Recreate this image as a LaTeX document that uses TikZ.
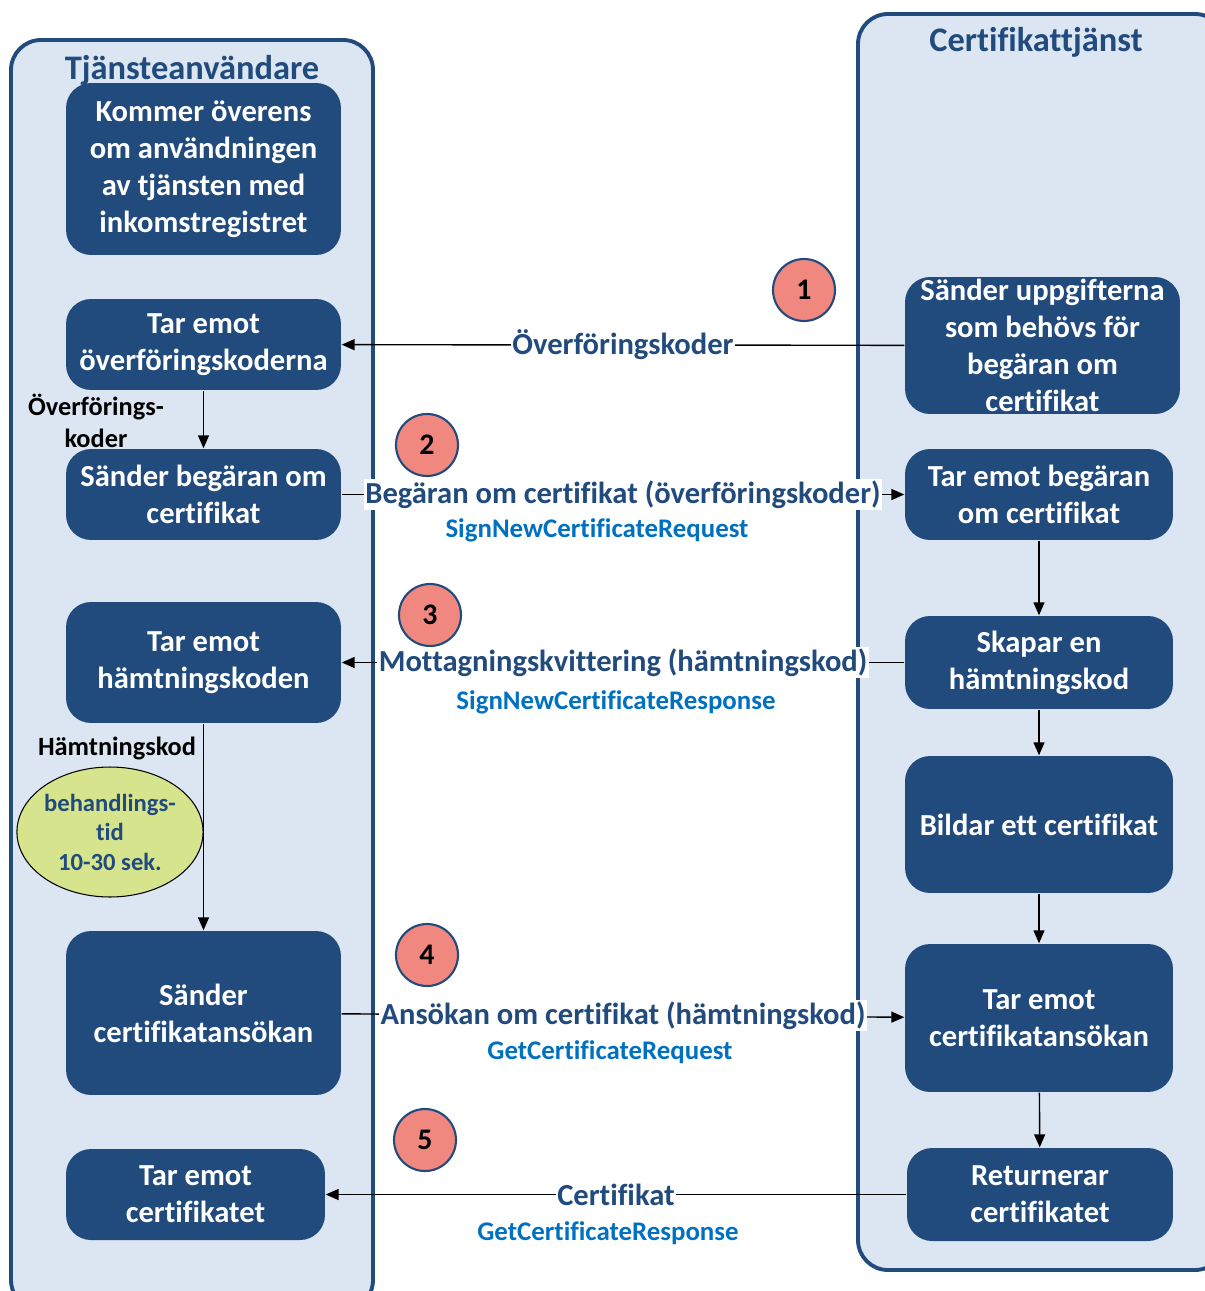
\documentclass[tikz,border=0pt]{standalone}
\usepackage{fontspec}
\setmainfont{Carlito}[Ligatures=NoCommon]
\usepackage{tikz}
\usetikzlibrary{positioning, arrows.meta, shapes.geometric}

\definecolor{boxblue}{RGB}{33,74,125}
\definecolor{lanefill}{RGB}{220,230,242}
\definecolor{linkblue}{RGB}{0,112,192}
\definecolor{nrfill}{RGB}{241,136,128}
\definecolor{ellfill}{RGB}{214,228,142}

\tikzset{
  lane/.style={draw=boxblue, line width=2.2pt, fill=lanefill, rounded corners=0.6cm},
  lanetitle/.style={text=boxblue, font=\fontsize{19.6}{24}\selectfont\bfseries},
  stepbox/.style={rectangle, rounded corners=0.5cm, fill=boxblue, text=white, align=center,
    inner sep=1pt, minimum width=5.5cm, minimum height=1.82cm,
    font=\fontsize{17.4}{21}\selectfont\bfseries},
  lbl/.style={fill=white, text=boxblue, inner sep=1pt, font=\fontsize{17.4}{21}\selectfont\bfseries},
  sublbl/.style={text=linkblue, font=\fontsize{15.3}{18}\selectfont\bfseries},
  nr/.style={circle, draw=boxblue, line width=1.2pt, fill=nrfill, minimum size=1.24cm,
    inner sep=0pt, font=\fontsize{17}{20}\selectfont\bfseries},
  note/.style={align=center, font=\fontsize{15}{18}\selectfont\bfseries},
}

\begin{document}
\begin{tikzpicture}[x=0.02cm, y=-0.02cm, >={Triangle[length=0.26cm, width=0.22cm]}, line width=0.8pt]
			\useasboundingbox (0,0) rectangle (1204,1291);
			\draw[lane] (11,40) rectangle (373,1310);
			\draw[lane] (858,14) rectangle (1225,1270);
			\node[lanetitle] (tu) at (192,70) {Tjänsteanvändare};
			\node[lanetitle] (tc) at (1036,42) {Certifikattjänst};
			
			\node[stepbox, minimum height=3.44cm] (u0) at (203.5,169) {Kommer överens\\om användningen\\av tjänsten med\\inkomstregistret};
			\node[stepbox] (u1) at (203.5,344.5) {Tar emot\\överföringskoderna};
			\node[stepbox] (u2) at (203.5,494.5) {Sänder begäran om\\certifikat};
			\node[stepbox, minimum height=2.42cm] (u3) at (203.5,662.5) {Tar emot\\hämtningskoden};
			\node[stepbox, minimum height=3.28cm] (u4) at (203.5,1013) {Sänder\\certifikatansökan};
			\node[stepbox, minimum width=5.18cm] (u5) at (195.5,1194.5) {Tar emot\\certifikatet};
			
			\node[stepbox, minimum height=2.74cm] (c1) at (1042.5,345.5) {Sänder uppgifterna\\som behövs för\\begäran om\\certifikat};
			\node[stepbox, minimum width=5.36cm] (c2) at (1039,494.5) {Tar emot begäran\\om certifikat};
			\node[stepbox, minimum width=5.36cm, minimum height=1.86cm] (c3) at (1039,662.5) {Skapar en\\hämtningskod};
			\node[stepbox, minimum width=5.36cm, minimum height=2.74cm] (c4) at (1039,824.5) {Bildar ett certifikat};
			\node[stepbox, minimum width=5.36cm, minimum height=2.96cm] (c5) at (1039,1018) {Tar emot\\certifikatansökan};
			\node[stepbox, minimum width=5.32cm, minimum height=1.86cm] (c6) at (1040,1194.5) {Returnerar\\certifikatet};
			
			\node[nr] (n1) at (804,290) {1};
			\node[nr] (n2) at (427,445) {2};
			\node[nr] (n3) at (430,615) {3};
			\node[nr] (n4) at (427,955) {4};
			\node[nr] (n5) at (425,1140) {5};
			
			\node[note] (k1) at (96,421) {Överförings-\\koder};
			\node[note] (k2) at (117,748) {Hämtningskod};
			\node[ellipse, draw, line width=0.6pt, fill=ellfill, minimum width=3.72cm, minimum height=2.6cm,
			  inner sep=0pt, align=center, text=boxblue, font=\fontsize{14}{16.8}\selectfont\bfseries] (e1) at (110,832) {behandlings-\\tid\\10-30 sek.};
			
			\draw (c1) edge[->] node[lbl] {Överföringskoder} (u1);
			\draw (u2) edge[->] node[lbl] {Begäran om certifikat (överföringskoder)} (c2);
			\draw (c3) edge[->] node[lbl] {Mottagningskvittering (hämtningskod)} (u3);
			\draw (u4) edge[->] node[lbl] {Ansökan om certifikat (hämtningskod)} (c5);
			\draw (c6) edge[->] node[lbl] {Certifikat} (u5);
			
			\node[sublbl] (s2) at (597,530) {SignNewCertificateRequest};
			\node[sublbl] (s3) at (616,702) {SignNewCertificateResponse};
			\node[sublbl] (s4) at (610,1052) {GetCertificateRequest};
			\node[sublbl] (s5) at (608,1233) {GetCertificateResponse};
			
			\draw (u1) edge[->] (u2);
			\draw (u3) edge[->] (u4);
			\draw (c2) edge[->] (c3);
			\draw (c3) edge[->] (c4);
			\draw (c4) edge[->] (c5);
			\draw (c5) edge[->] (c6);
		\end{tikzpicture}
\end{document}
